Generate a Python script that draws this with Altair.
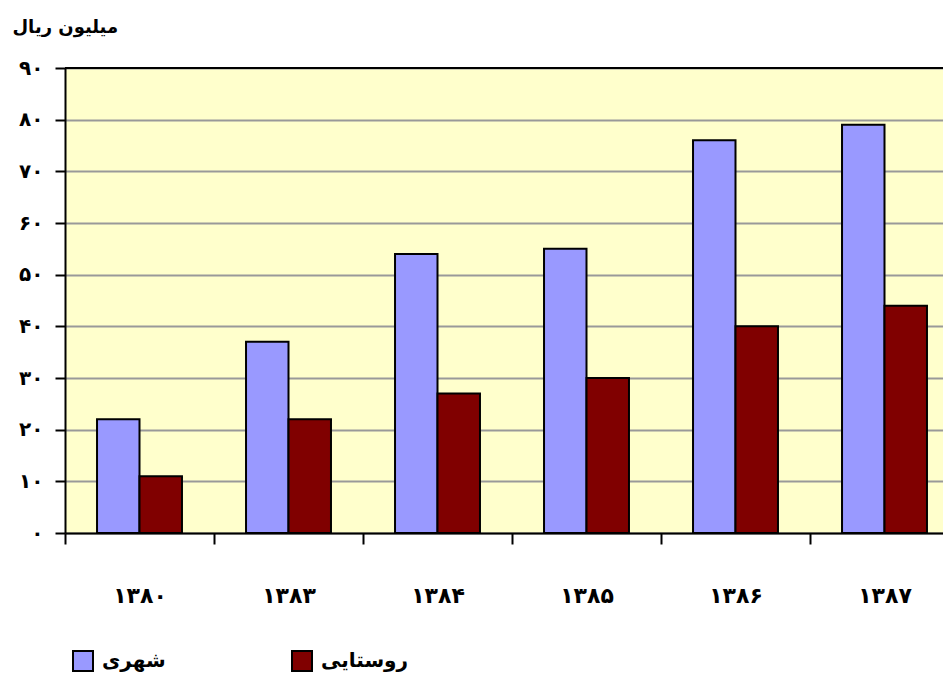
import altair as alt
import pandas as pd

years = ["۱۳۸۰", "۱۳۸۳", "۱۳۸۴", "۱۳۸۵", "۱۳۸۶", "۱۳۸۷"]
urban = [22, 37, 54, 55, 76, 79]
rural = [11, 22, 27, 30, 40, 44]
series = ["شهری", "روستایی"]
colors = ["#9999FF", "#800000"]
y_labels = ["۰", "۱۰", "۲۰", "۳۰", "۴۰", "۵۰", "۶۰", "۷۰", "۸۰", "۹۰"]

rows = []
for i, yr in enumerate(years):
    rows.append({"year": yr, "series": series[0], "value": urban[i]})
    rows.append({"year": yr, "series": series[1], "value": rural[i]})
df = pd.DataFrame(rows)

FONT = "DejaVu Sans"
label_expr = "[" + ",".join("'" + s + "'" for s in y_labels) + "][round(datum.value/10)]"

bars = alt.Chart(df).mark_bar(stroke="black", strokeWidth=2).encode(
    x=alt.X("year:N", sort=years,
            scale=alt.Scale(range=[0, 894], paddingInner=0, paddingOuter=0),
            axis=alt.Axis(title=None, labelAngle=0, tickBand="extent", grid=False,
                          domainColor="black", domainWidth=2, tickColor="black", tickWidth=2,
                          tickSize=11, labelPadding=41, labelFont=FONT, labelFontSize=22,
                          labelFontWeight="bold", labelColor="black", labelBaseline="top")),
    xOffset=alt.XOffset("series:N", sort=series,
                        scale=alt.Scale(paddingInner=0, paddingOuter=0.754)),
    y=alt.Y("value:Q", scale=alt.Scale(domain=[0, 90], nice=False),
            axis=alt.Axis(title="میلیون ریال", titleAngle=0, titleAlign="left", titleBaseline="middle",
                          titleX=-53, titleY=-41, titleFont=FONT, titleFontSize=18, titleFontWeight="bold",
                          titleColor="black",
                          values=list(range(0, 91, 10)), labelExpr=label_expr,
                          labelFont=FONT, labelFontSize=20, labelFontWeight="bold", labelColor="black",
                          labelPadding=12, tickSize=10, tickColor="black", tickWidth=2,
                          domainColor="black", domainWidth=2,
                          grid=True, gridColor="#999999", gridWidth=2)),
    color=alt.Color("series:N", sort=series,
                    scale=alt.Scale(domain=series, range=colors),
                    legend=alt.Legend(title=None, orient="none", legendX=7, legendY=582,
                                      direction="horizontal", columns=2, columnPadding=122,
                                      symbolType="square", symbolSize=400, symbolStrokeColor="black",
                                      symbolStrokeWidth=2, symbolOpacity=1, labelOffset=8,
                                      labelFont=FONT, labelFontSize=20, labelFontWeight="bold",
                                      labelColor="black")),
)

top_rule = alt.Chart(pd.DataFrame({"v": [90]})).mark_rule(color="black", strokeWidth=2).encode(
    y=alt.Y("v:Q", scale=alt.Scale(domain=[0, 90], nice=False))
)

chart = alt.layer(bars, top_rule).properties(
    width=878, height=465,
    autosize=alt.AutoSizeParams(type="none"),
    padding={"left": 57, "top": 60, "right": 0, "bottom": 146},
    background="white",
).configure_view(fill="#FFFFCC", stroke=None)

chart.save("out.html", embed_options={"renderer": "svg", "actions": False})
